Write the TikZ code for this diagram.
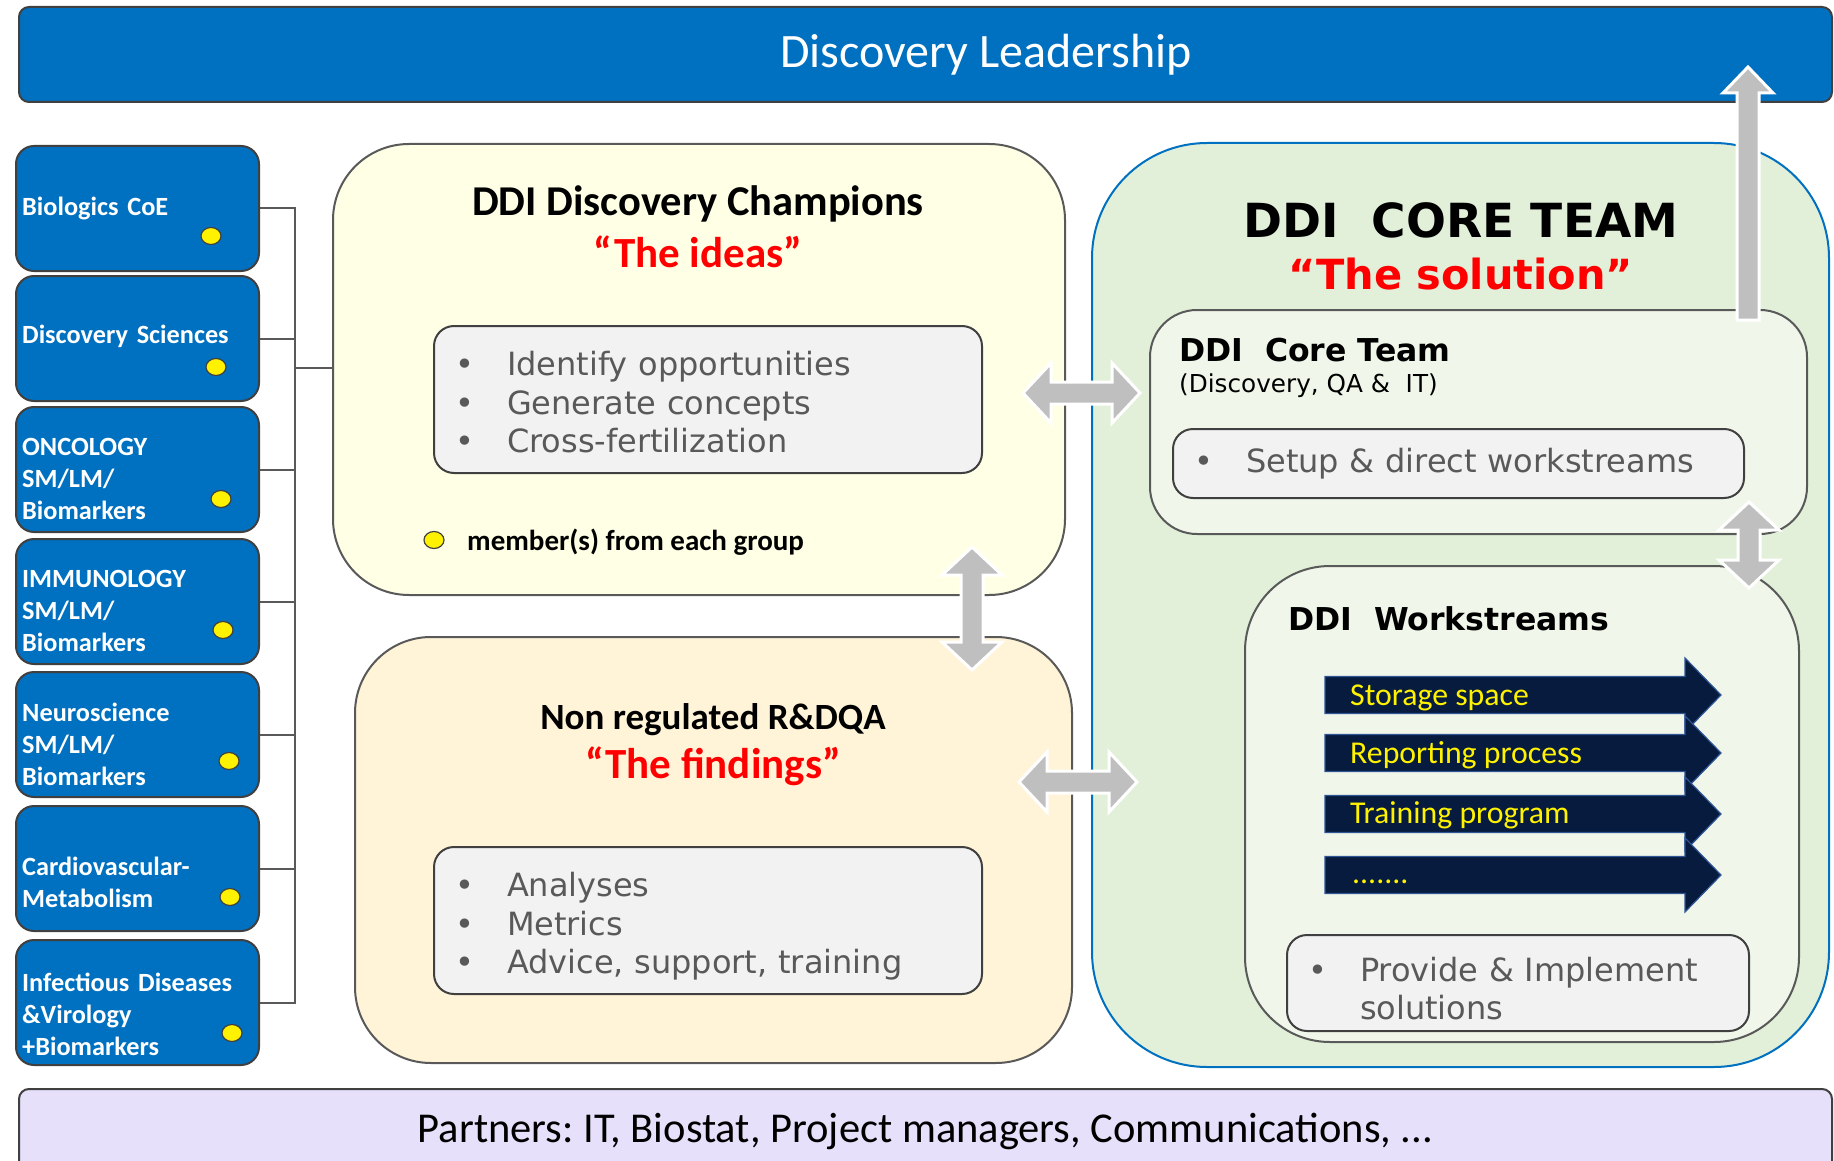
\documentclass[tikz,border=0pt]{standalone}
\usepackage{fontspec}
\setmainfont{Carlito}
\newfontfamily\verdana{DejaVu Sans}
\usepackage{xcolor}
\usetikzlibrary{positioning, calc}
\frenchspacing

\definecolor{ddiblue}{HTML}{0070C0}
\definecolor{edgegray}{HTML}{404040}
\definecolor{busgray}{HTML}{595959}
\definecolor{champfill}{HTML}{FFFFE6}
\definecolor{findfill}{HTML}{FFF3D8}
\definecolor{corefill}{HTML}{E2F0D9}
\definecolor{innerfill}{HTML}{F0F7EA}
\definecolor{listfill}{HTML}{F2F2F2}
\definecolor{listtext}{HTML}{595959}
\definecolor{navy}{HTML}{061B3D}
\definecolor{navyedge}{HTML}{2F5597}
\definecolor{arrowgray}{HTML}{BFBFBF}
\definecolor{partnerfill}{HTML}{E6E0FA}

\newcommand{\fsz}[2]{\fontsize{#1}{#2}\selectfont}
\newcommand{\itm}{\makebox[52pt][l]{\textbullet}}

% grey double arrows, drawn between two named points
\newcommand{\dblharrow}[2]{%
  \draw[grayarrow] let \p1=(#1), \p2=(#2) in
    (\x1,\y1) -- (\x1+28pt,\y1+30pt) -- (\x1+28pt,\y1+11pt) -- (\x2-28pt,\y1+11pt)
    -- (\x2-28pt,\y1+30pt) -- (\x2,\y1) -- (\x2-28pt,\y1-30pt) -- (\x2-28pt,\y1-11pt)
    -- (\x1+28pt,\y1-11pt) -- (\x1+28pt,\y1-30pt) -- cycle;}
\newcommand{\dblvarrow}[2]{%
  \draw[grayarrow] let \p1=(#1), \p2=(#2) in
    (\x1,\y1) -- (\x1+30pt,\y1-28pt) -- (\x1+11pt,\y1-28pt) -- (\x1+11pt,\y2+28pt)
    -- (\x1+30pt,\y2+28pt) -- (\x1,\y2) -- (\x1-30pt,\y2+28pt) -- (\x1-11pt,\y2+28pt)
    -- (\x1-11pt,\y1-28pt) -- (\x1-30pt,\y1-28pt) -- cycle;}

\tikzset{
  bar/.style={draw=edgegray, line width=2pt, rounded corners=10pt, inner sep=0pt},
  group/.style={draw=edgegray, line width=2pt, fill=ddiblue, rounded corners=18pt,
    minimum width=243pt, minimum height=125pt, anchor=north west, inner sep=0pt},
  grouptext/.style={anchor=base west, inner sep=0pt, text=white, text width=232pt,
    align=left, font=\bfseries\fsz{26.3}{32}},
  member/.style={draw=edgegray, line width=1.2pt, fill=yellow},
  bus/.style={draw=busgray, line width=2pt},
  panel/.style={draw=busgray, line width=2pt, rounded corners=76pt, anchor=north west,
    inner sep=0pt},
  listbox/.style={draw=edgegray, line width=2pt, fill=listfill, rounded corners=20pt,
    inner xsep=21pt, inner ysep=0pt, text height=20pt, align=left, text=listtext,
    font=\verdana\fsz{32}{38.5}},
  title/.style={anchor=base, inner sep=0pt, font=\bfseries\fsz{42.5}{50}},
  quote/.style={anchor=base, inner sep=0pt, text=red, font=\bfseries\fsz{43}{50}},
  heading/.style={anchor=base west, inner sep=0pt, font=\verdana\bfseries\fsz{31.5}{36}},
  wsarrow/.style={fill=navy, draw=navyedge, line width=1.2pt},
  wstext/.style={anchor=base west, inner sep=0pt, text=yellow, font=\fsz{31.8}{36}},
  grayarrow/.style={fill=arrowgray, draw=white, line width=3pt},
}

\begin{document}
\begin{tikzpicture}[x=1pt, y=-1pt]
  \useasboundingbox (0,0) rectangle (1834,1161);

  % Leadership and partners
  \node[bar, fill=ddiblue, minimum width=1813pt, minimum height=95pt] (lead) at (925.5,54.5) {};
  \node[anchor=base, inner sep=0pt, text=white, font=\fsz{48}{56}] (leadtext) at (986,68) {Discovery Leadership};
  \node[bar, fill=partnerfill, minimum width=1813pt, minimum height=84pt, font=\fsz{42.5}{50}] (partners) at (925.5,1131) {Partners: IT, Biostat, Project managers, Communications, ...};

  % Discovery groups
  \node[group] (bio)    at (15,145) {};
  \node[group] (disc)   at (15,275) {};
  \node[group] (onco)   at (15,406) {};
  \node[group] (immu)   at (15,538) {};
  \node[group] (neuro)  at (15,671) {};
  \node[group] (cvm)    at (15,805) {};
  \node[group] (infect) at (15,939) {};

  \node[grouptext] (biotext)    at (22,215) {Biologics CoE};
  \node[grouptext] (disctext)   at (22,343) {Discovery Sciences};
  \node[grouptext] (oncotext)   at (22,455) {ONCOLOGY\\SM/LM/\\Biomarkers};
  \node[grouptext] (immutext)   at (22,587) {IMMUNOLOGY\\SM/LM/\\Biomarkers};
  \node[grouptext] (neurotext)  at (22,721) {Neuroscience\\SM/LM/\\Biomarkers};
  \node[grouptext] (cvmtext)    at (22,875) {Cardiovascular-\\Metabolism};
  \node[grouptext] (infecttext) at (22,991) {Infectious Diseases\\\&Virology\\+Biomarkers};

  \draw[member] (211,236) ellipse (10pt and 8.5pt);
  \draw[member] (216,367) ellipse (10pt and 8.5pt);
  \draw[member] (221,499) ellipse (10pt and 8.5pt);
  \draw[member] (223,630) ellipse (10pt and 8.5pt);
  \draw[member] (229,761) ellipse (10pt and 8.5pt);
  \draw[member] (230,897) ellipse (10pt and 8.5pt);
  \draw[member] (232,1033) ellipse (10pt and 8.5pt);

  % DDI Discovery Champions
  \node[panel, fill=champfill, minimum width=732pt, minimum height=451pt] (champ) at (332,143) {};
  \node[title] (champtitle) at (698,215) {DDI Discovery Champions};
  \node[quote] (champquote) at (698,267) {“The ideas”};
  \node[listbox, minimum width=548pt, minimum height=147pt, text width=506pt, text depth=68pt] (ideas) at (708,399.5)
    {\itm Identify opportunities\\\itm Generate concepts\\\itm Cross-fertilization};
  \draw[member] (434,540) ellipse (10pt and 8.5pt);
  \node[anchor=base west, inner sep=0pt, font=\bfseries\fsz{29}{34}] (membertext) at (467,550) {member(s) from each group};

  \coordinate (hub) at (295,368);
  \foreach \g in {bio,disc,onco,immu,neuro,cvm,infect}
    \draw[bus] (\g.east) -| (hub);
  \draw[bus] (hub) -- (hub -| champ.west);

  % Non regulated R&DQA
  \node[panel, fill=findfill, minimum width=717pt, minimum height=426pt] (find) at (354,636) {};
  \node[title, font=\bfseries\fsz{37}{46}] (findtitle) at (713,729) {Non regulated R\&DQA};
  \node[quote] (findquote) at (713,778) {“The findings”};
  \node[listbox, minimum width=548pt, minimum height=147pt, text width=506pt, text depth=68pt] (findings) at (708,920.5)
    {\itm Analyses\\\itm Metrics\\\itm Advice, support, training};

  % DDI core team
  \node[panel, draw=ddiblue, fill=corefill, rounded corners=115pt, minimum width=737pt, minimum height=924pt] (core) at (1091,142) {};
  \node[anchor=base, inner sep=0pt, font=\verdana\bfseries\fsz{47}{54}] (coretitle) at (1461,237) {DDI\ \ CORE TEAM};
  \node[anchor=base, inner sep=0pt, text=red, font=\verdana\bfseries\fsz{41.5}{48}] (corequote) at (1461,289) {“The solution”};

  \node[panel, fill=innerfill, rounded corners=47pt, minimum width=657pt, minimum height=224pt] (inner) at (1149,309) {};
  \node[heading] (innertitle) at (1179,361) {DDI\ \ Core Team};
  \node[anchor=base west, inner sep=0pt, font=\verdana\fsz{24.7}{30}] (innersub) at (1179,392) {(Discovery, QA \&\ \ IT)};
  \node[listbox, minimum width=571pt, minimum height=69pt, text width=529pt, text depth=1.3pt] (setup) at (1458.5,463.5)
    {\itm Setup \& direct workstreams};

  \node[panel, fill=innerfill, rounded corners=85pt, minimum width=554pt, minimum height=476pt] (ws) at (1244,565) {};
  \node[heading] (wstitle) at (1288,630) {DDI\ \ Workstreams};
  \foreach \c in {695,753,814,875}
    \draw[wsarrow] (1325,\c-18.5) -- (1685,\c-18.5) -- (1685,\c-37) -- (1721,\c)
      -- (1685,\c+37) -- (1685,\c+18.5) -- (1325,\c+18.5) -- cycle;
  \node[wstext] (storage)   at (1350,705) {Storage space};
  \node[wstext] (reporting) at (1350,763) {Reporting process};
  \node[wstext] (training)  at (1350,823) {Training program};
  \node[wstext] (more)      at (1352,883) {.......};
  \node[listbox, minimum width=462pt, minimum height=96pt, text width=420pt, text depth=24pt] (provide) at (1518,983)
    {\itm Provide \& Implement\\\hspace*{52pt}solutions};

  % grey arrows
  \coordinate (ideasR) at (1023,393);
  \coordinate (coreL)  at (1140,393);
  \coordinate (findR)  at (1019,782);
  \coordinate (wsL)    at (1137,782);
  \coordinate (champB) at (972,547);
  \coordinate (findT)  at (972,670);
  \coordinate (innerB) at (1749,502);
  \coordinate (wsT)    at (1749,588);
  \coordinate (upfoot) at (1748,320);
  \coordinate (uptip)  at (1748,67);

  \dblharrow{ideasR}{coreL}
  \dblharrow{findR}{wsL}
  \dblvarrow{champB}{findT}
  \dblvarrow{innerB}{wsT}
  \draw[grayarrow] let \p1=(upfoot), \p2=(uptip) in
    (\x1-11pt,\y1) -- (\x1-11pt,\y2-26pt) -- (\x1-25pt,\y2-26pt) -- (\x2,\y2)
    -- (\x1+25pt,\y2-26pt) -- (\x1+11pt,\y2-26pt) -- (\x1+11pt,\y1) -- cycle;
\end{tikzpicture}
\end{document}
